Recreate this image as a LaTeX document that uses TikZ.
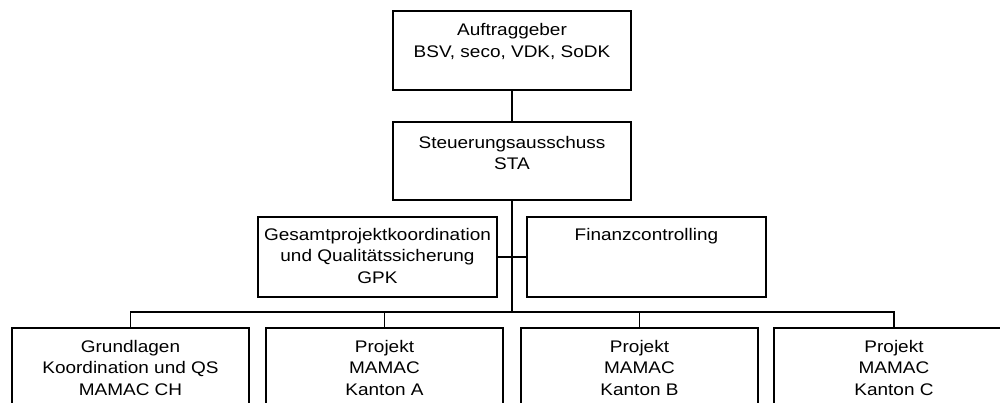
\documentclass[tikz,border=0pt]{standalone}
\usepackage{fontspec}
\setmainfont{Liberation Sans}[FakeStretch=1.13]
\newcommand{\boxtext}[1]{\fontsize{12.6}{16.4}\selectfont\begin{tabular}[t]{@{}c@{}}#1\end{tabular}}
\begin{document}
\begin{tikzpicture}[x=0.75pt,y=-0.75pt,
  box/.style={draw=black, line width=0.8pt, rectangle, inner sep=0pt},
  txt/.style={inner sep=0pt, anchor=base},
  conn/.style={draw=black, line width=0.8pt},
  thickconn/.style={draw=black, line width=1.3pt}]
\useasboundingbox (0,0) rectangle (1000,403);
\clip (0,0) rectangle (1000,403);
\fill[white] (0,0) rectangle (1000,403);
% boxes
\node[box, minimum width=238*0.75pt, minimum height=79*0.75pt] (A) at (512,50.5) {};
\node[box, minimum width=238*0.75pt, minimum height=78*0.75pt] (S) at (512,161) {};
\node[box, minimum width=239*0.75pt, minimum height=80*0.75pt] (G) at (377.5,257) {};
\node[box, minimum width=239*0.75pt, minimum height=80*0.75pt] (F) at (646.5,257) {};
\node[box, minimum width=237*0.75pt, minimum height=80*0.75pt] (B1) at (130.5,368) {};
\node[box, minimum width=237*0.75pt, minimum height=80*0.75pt] (B2) at (384.5,368) {};
\node[box, minimum width=237*0.75pt, minimum height=80*0.75pt] (B3) at (639.5,368) {};
\node[box, minimum width=240*0.75pt, minimum height=80*0.75pt] (B4) at (894,368) {};
% texts
\node[txt] (tA) at (512,36) {\boxtext{Auftraggeber\\BSV, seco, VDK, SoDK}};
\node[txt] (tS) at (512,148) {\boxtext{Steuerungsausschuss\\STA}};
\node[txt] (tG) at (377.5,240) {\boxtext{Gesamtprojektkoordination\\und Qualitätssicherung\\GPK}};
\node[txt] (tF) at (646.5,240) {\boxtext{Finanzcontrolling}};
\node[txt] (tB1) at (130.5,352) {\boxtext{Grundlagen\\Koordination und QS\\MAMAC CH}};
\node[txt] (tB2) at (384.5,352) {\boxtext{Projekt\\MAMAC\\Kanton A}};
\node[txt] (tB3) at (639.5,352) {\boxtext{Projekt\\MAMAC\\Kanton B}};
\node[txt] (tB4) at (894,352) {\boxtext{Projekt\\MAMAC\\Kanton C}};
% connectors
\coordinate (j) at (512,257);
\coordinate (bus) at (512,312);
\draw[conn] (A.south) -- (S.north);
\draw[thickconn] (S.south) -- (j);
\draw[conn] (G.east) -- (F.west);
\draw[conn] (j) -- (bus);
\draw[conn] (B1.north) |- (bus) -| (B4.north);
\draw[conn] (B2.north) -- (B2.north |- bus);
\draw[conn] (B3.north) -- (B3.north |- bus);
\end{tikzpicture}
\end{document}
